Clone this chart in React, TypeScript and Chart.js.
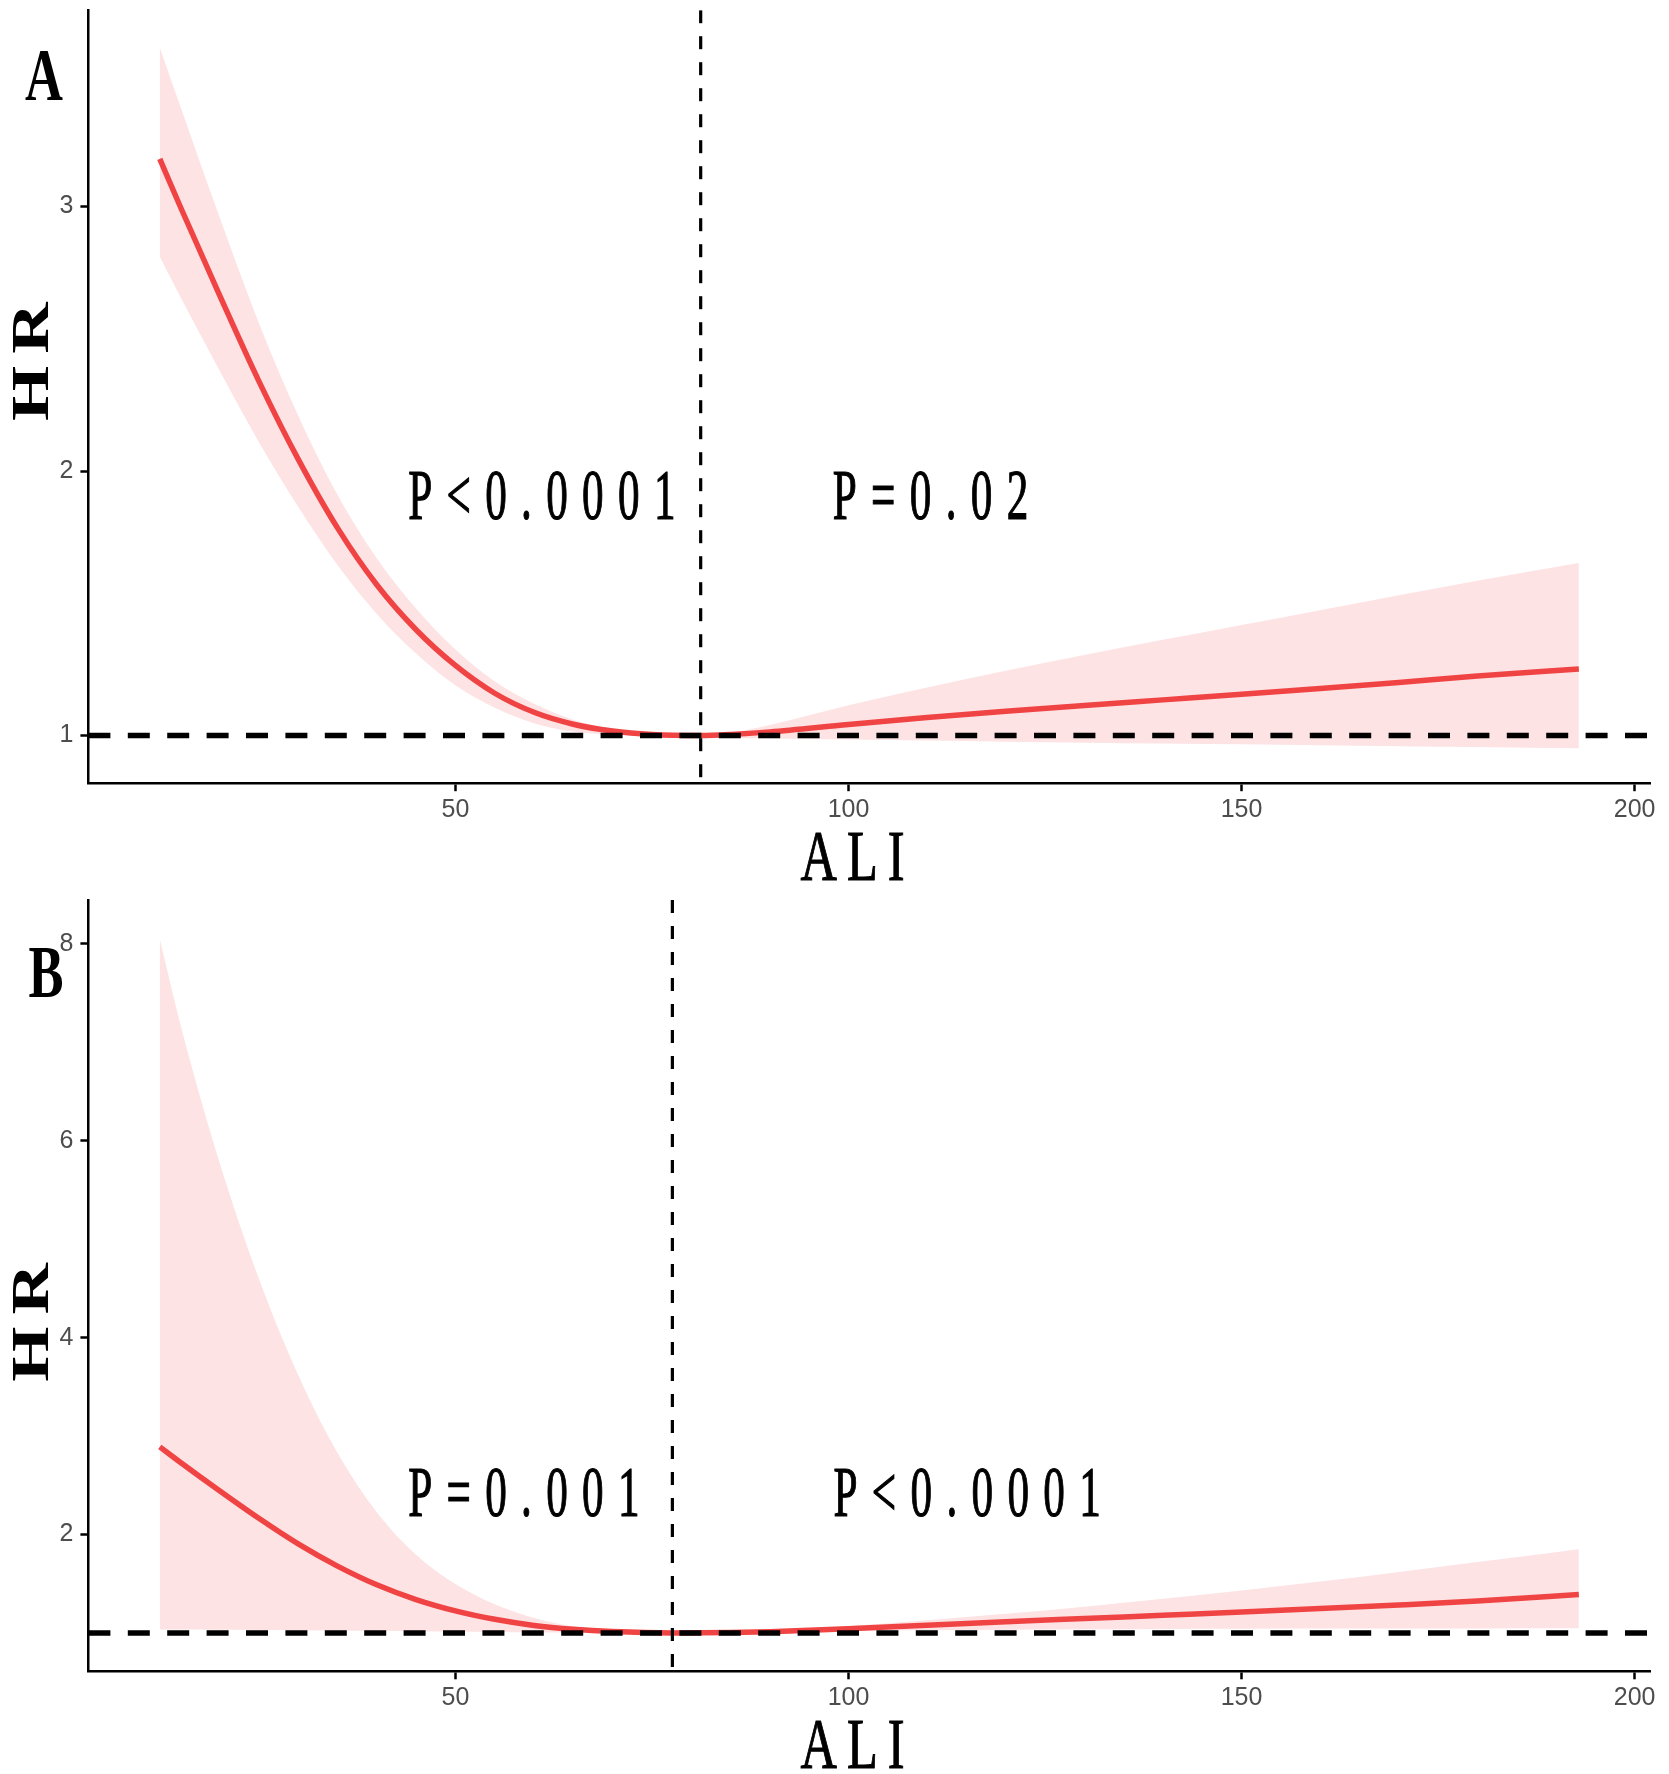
import { useEffect, useRef } from "react";
import { Chart, registerables, type ChartConfiguration, type Plugin } from "chart.js";

Chart.register(...registerables);

// Panel A: ALI vs HR spline with its 95% band
const ALI_A = [12.4, 15, 20, 25, 30, 35, 40, 45, 50, 55, 60, 65, 70, 75, 81.2, 85, 90, 100, 110, 120, 130, 140, 150, 160, 170, 180, 192.9];
const HR_A = [3.18, 3.0, 2.665, 2.34, 2.045, 1.785, 1.57, 1.4, 1.265, 1.16, 1.088, 1.043, 1.017, 1.004, 1.0, 1.004, 1.014, 1.042, 1.068, 1.092, 1.114, 1.135, 1.156, 1.178, 1.201, 1.225, 1.252];
const UPPER_A = [3.6, 3.38, 2.96, 2.56, 2.21, 1.91, 1.67, 1.48, 1.325, 1.205, 1.12, 1.06, 1.024, 1.006, 1.0, 1.01, 1.04, 1.115, 1.182, 1.245, 1.305, 1.362, 1.418, 1.474, 1.53, 1.585, 1.652];
const LOWER_A = [2.81, 2.66, 2.38, 2.11, 1.865, 1.645, 1.46, 1.31, 1.19, 1.105, 1.047, 1.015, 1.003, 1.0, 1.0, 0.992, 0.989, 0.985, 0.981, 0.977, 0.973, 0.97, 0.967, 0.963, 0.96, 0.957, 0.952];

// Panel B
const ALI_B = [12.4, 15, 20, 25, 30, 35, 40, 45, 50, 55, 60, 65, 70, 77.6, 85, 90, 100, 110, 120, 130, 140, 150, 160, 170, 180, 192.9];
const HR_B = [2.89, 2.734, 2.444, 2.164, 1.904, 1.679, 1.489, 1.339, 1.224, 1.138, 1.076, 1.037, 1.014, 1.0, 1.005, 1.013, 1.042, 1.078, 1.113, 1.146, 1.179, 1.212, 1.247, 1.284, 1.325, 1.39];
const UPPER_B = [8.05, 7.19, 5.78, 4.6, 3.62, 2.83, 2.227, 1.795, 1.496, 1.29, 1.151, 1.065, 1.028, 1.0, 1.01, 1.025, 1.07, 1.128, 1.194, 1.267, 1.346, 1.431, 1.522, 1.62, 1.72, 1.85];
const LOWER_B = [1.035, 1.034, 1.032, 1.03, 1.028, 1.025, 1.022, 1.018, 1.014, 1.01, 1.006, 1.003, 1.001, 1.0, 1.004, 1.01, 1.02, 1.027, 1.033, 1.037, 1.04, 1.042, 1.044, 1.045, 1.046, 1.047];

const X_TICKS = [50, 100, 150, 200];
const Y_TICKS_A = [1, 2, 3];
const Y_TICKS_B = [2, 4, 6, 8];
const X_RANGE: [number, number] = [3.32, 201.95];
const Y_RANGE_A: [number, number] = [0.82, 3.742];
const Y_RANGE_B: [number, number] = [0.61, 8.446];

const REF_HR = 1;
const KNOT_A = 81.2;
const KNOT_B = 77.6;

const P_LABELS_A = ["P<0.0001", "P=0.02"];
const P_LABELS_B = ["P=0.001", "P<0.0001"];

const SERIF = '"Liberation Serif", "Times New Roman", serif';
const LINE_RED = "#F04444";
const BAND_PINK = "#FDE3E4";

type TextOpts = {
  size: number;
  bold?: boolean;
  sx: number;
  spacing: number;
  rotate?: boolean;
  heavy?: number;
};

const drawText = (ctx: CanvasRenderingContext2D, text: string, x: number, y: number, o: TextOpts) => {
  ctx.save();
  ctx.translate(x, y);
  if (o.rotate) {
    ctx.rotate(-Math.PI / 2);
    ctx.scale(1, o.sx);
  } else {
    ctx.scale(o.sx, 1);
  }
  ctx.font = `${o.bold ? "bold " : ""}${o.size}px ${SERIF}`;
  (ctx as any).letterSpacing = `${o.rotate ? o.spacing : o.spacing / o.sx}px`;
  ctx.fillStyle = "#000";
  ctx.textAlign = "left";
  ctx.textBaseline = "alphabetic";
  ctx.fillText(text, 0, 0);
  if (o.heavy) {
    ctx.strokeStyle = "#000";
    ctx.lineWidth = o.heavy;
    ctx.strokeText(text, 0, 0);
  }
  ctx.restore();
};

type PanelProps = {
  letter: string;
  ali: number[];
  hr: number[];
  upper: number[];
  lower: number[];
  knot: number;
  yTicks: number[];
  yRange: [number, number];
  pLabels: string[];
  pAnchors: [number, number][];
  padTop: number;
  xAxisHeight: number;
  letterPos: [number, number];
  hrPos: [number, number];
  aliBaseline: number;
};

function Panel(props: PanelProps) {
  const canvasRef = useRef<HTMLCanvasElement>(null);

  useEffect(() => {
    const canvas = canvasRef.current;
    if (!canvas) return;

    const zip = (ys: number[]) => props.ali.map((x, i) => ({ x, y: ys[i] }));

    const labelPlugin: Plugin<"line"> = {
      id: "panelText",
      afterDraw(chart) {
        const ctx = chart.ctx;
        drawText(ctx, props.letter, props.letterPos[0], props.letterPos[1], { size: 75, bold: true, sx: 0.7, spacing: 0 });
        drawText(ctx, "HR", props.hrPos[0], props.hrPos[1], { size: 71, bold: true, sx: 0.745, spacing: 12, rotate: true });
        drawText(ctx, "ALI", 800.5, props.aliBaseline, { size: 72, sx: 0.7, spacing: 10, heavy: 1.1 });
        const xs = chart.scales.x;
        const ys = chart.scales.y;
        props.pLabels.forEach((label, i) => {
          const [ax, ay] = props.pAnchors[i];
          drawText(ctx, label, xs.getPixelForValue(ax), ys.getPixelForValue(ay), {
            size: 72,
            sx: 0.6,
            spacing: 14.3,
            heavy: 1.2,
          });
        });
      },
    };

    const axisCommon = {
      type: "linear" as const,
      grid: {
        display: true,
        drawOnChartArea: false,
        drawTicks: true,
        tickLength: 8,
        tickWidth: 2.5,
        tickColor: "#000",
      },
      border: { display: true, color: "#000", width: 2.5 },
    };
    const tickFont = { family: '"Liberation Sans", Arial, sans-serif', size: 25 };

    const config: ChartConfiguration<"line"> = {
      type: "line",
      data: {
        datasets: [
          {
            // knot line, drawn top to bottom so the dash pattern starts at the top
            data: [
              { x: props.knot, y: props.yRange[1] },
              { x: props.knot, y: props.yRange[0] },
            ],
            borderColor: "#000",
            borderWidth: 3.2,
            borderDash: [13, 13],
            pointRadius: 0,
            tension: 0,
            fill: false,
          },
          {
            data: [
              { x: X_RANGE[0], y: REF_HR },
              { x: X_RANGE[1], y: REF_HR },
            ],
            borderColor: "#000",
            borderWidth: 5.5,
            borderDash: [22, 17.4],
            pointRadius: 0,
            tension: 0,
            fill: false,
          },
          {
            data: zip(props.hr),
            borderColor: LINE_RED,
            borderWidth: 5.5,
            borderCapStyle: "butt",
            pointRadius: 0,
            cubicInterpolationMode: "monotone",
            fill: false,
          },
          {
            data: zip(props.upper),
            borderWidth: 0,
            borderColor: "rgba(0,0,0,0)",
            backgroundColor: BAND_PINK,
            pointRadius: 0,
            cubicInterpolationMode: "monotone",
            fill: "+1",
          },
          {
            data: zip(props.lower),
            borderWidth: 0,
            borderColor: "rgba(0,0,0,0)",
            pointRadius: 0,
            cubicInterpolationMode: "monotone",
            fill: false,
          },
        ],
      },
      options: {
        responsive: false,
        maintainAspectRatio: false,
        animation: false,
        layout: { padding: { left: 0, right: 19, top: props.padTop, bottom: 0 } },
        plugins: {
          legend: { display: false },
          tooltip: { enabled: false },
        },
        scales: {
          x: {
            ...axisCommon,
            min: X_RANGE[0],
            max: X_RANGE[1],
            afterBuildTicks: (scale) => {
              scale.ticks = X_TICKS.map((value) => ({ value }));
            },
            afterFit: (scale) => {
              scale.height = props.xAxisHeight;
              scale.paddingLeft = 0;
              scale.paddingRight = 0;
            },
            ticks: {
              color: "#4D4D4D",
              font: tickFont,
              padding: 4,
              maxRotation: 0,
              autoSkip: false,
              callback: (v) => String(v),
            },
          },
          y: {
            ...axisCommon,
            min: props.yRange[0],
            max: props.yRange[1],
            afterBuildTicks: (scale) => {
              scale.ticks = props.yTicks.map((value) => ({ value }));
            },
            afterFit: (scale) => {
              scale.width = 88.4;
              scale.paddingTop = 0;
              scale.paddingBottom = 0;
            },
            ticks: {
              color: "#4D4D4D",
              font: tickFont,
              padding: 7,
              autoSkip: false,
              callback: (v) => String(v),
            },
          },
        },
      },
      plugins: [labelPlugin],
    };

    const chart = new Chart(canvas, config);
    return () => chart.destroy();
  }, [props]);

  return <canvas ref={canvasRef} width={1669} height={887} style={{ display: "block", width: 1669, height: 887 }} />;
}

export default function App() {
  return (
    <div style={{ position: "absolute", left: 0, top: 0, width: 1669, height: 1774, background: "#fff" }}>
      <Panel
        letter="A"
        ali={ALI_A}
        hr={HR_A}
        upper={UPPER_A}
        lower={LOWER_A}
        knot={KNOT_A}
        yTicks={Y_TICKS_A}
        yRange={Y_RANGE_A}
        pLabels={P_LABELS_A}
        pAnchors={[
          [44.0, 1.819],
          [98.0, 1.819],
        ]}
        padTop={10.2}
        xAxisHeight={103.8}
        letterPos={[25, 100]}
        hrPos={[48.2, 421]}
        aliBaseline={880}
      />
      <Panel
        letter="B"
        ali={ALI_B}
        hr={HR_B}
        upper={UPPER_B}
        lower={LOWER_B}
        knot={KNOT_B}
        yTicks={Y_TICKS_B}
        yRange={Y_RANGE_B}
        pLabels={P_LABELS_B}
        pAnchors={[
          [44.0, 2.19],
          [98.1, 2.19],
        ]}
        padTop={13}
        xAxisHeight={102.7}
        letterPos={[28.5, 110]}
        hrPos={[48.2, 494.7]}
        aliBaseline={881}
      />
    </div>
  );
}
